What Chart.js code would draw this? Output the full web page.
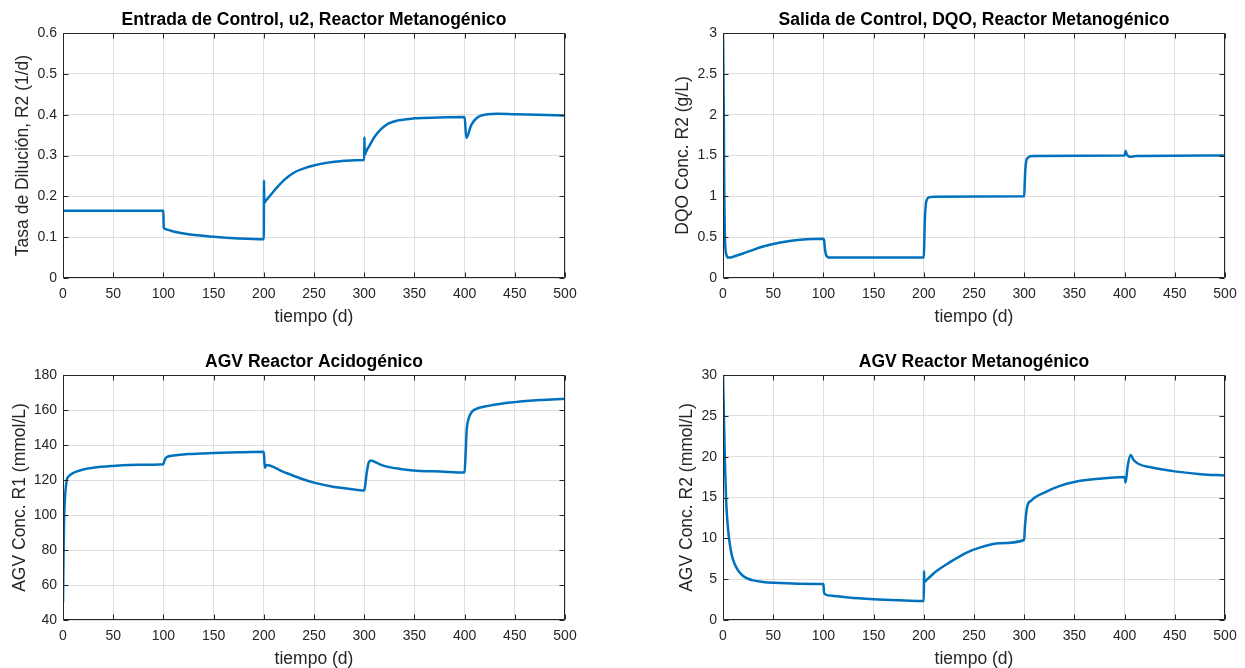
<!DOCTYPE html>
<html>
<head>
<meta charset="utf-8">
<script src="https://cdn.jsdelivr.net/npm/chart.js@4.4.1/dist/chart.umd.min.js"></script>
<style>
  html, body { margin: 0; padding: 0; background: #fff; width: 1245px; height: 668px; overflow: hidden; }
  canvas { position: absolute; }
</style>
</head>
<body>
<canvas id="c1" width="622" height="334" style="left:0;top:0"></canvas>
<canvas id="c2" width="605" height="334" style="left:640px;top:0"></canvas>
<canvas id="c3" width="622" height="334" style="left:0;top:336px"></canvas>
<canvas id="c4" width="605" height="334" style="left:640px;top:336px"></canvas>
<script>
// tick labels
const xTicks = ['0', '50', '100', '150', '200', '250', '300', '350', '400', '450', '500'];
const u2Ticks = ['0', '0.1', '0.2', '0.3', '0.4', '0.5', '0.6'];
const dqoTicks = ['0', '0.5', '1', '1.5', '2', '2.5', '3'];
const r1Ticks = ['40', '60', '80', '100', '120', '140', '160', '180'];
const r2Ticks = ['0', '5', '10', '15', '20', '25', '30'];

// u2, tasa de dilucion R2 (1/d)
const tU2 = [0, 100, 100.3, 101, 103, 110, 125, 150, 175, 200, 200.2, 200.5, 201.5, 203, 205, 210.7, 220.7, 230.7, 240.7,
  250.7, 260, 270.7, 280, 290.7, 300, 300.2, 300.5, 301.5, 303, 305.7, 310.7, 317, 324, 334, 350, 374, 400, 401.7, 406.7,
  413, 423, 433, 450, 473, 500];
const u2 = [0.165, 0.165, 0.125, 0.121, 0.119, 0.114, 0.107, 0.101, 0.097, 0.095, 0.239, 0.183, 0.187, 0.192, 0.198, 0.215,
  0.241, 0.259, 0.269, 0.276, 0.281, 0.2845, 0.287, 0.2886, 0.289, 0.345, 0.302, 0.307, 0.315, 0.326, 0.347, 0.365, 0.378,
  0.386, 0.391, 0.393, 0.394, 0.343, 0.375, 0.3935, 0.401, 0.4025, 0.401, 0.4, 0.398];

// DQO R2 (g/L)
const tDqo = [0, 0.8, 1.3, 1.8, 2.5, 3.5, 5, 7, 10, 20, 30, 40, 50, 60, 70, 80, 90, 100, 100.7, 101.5, 102.5, 104, 106, 200,
  200.5, 201, 202, 203.5, 206, 210, 300, 300.5, 301, 302, 303.5, 306, 310, 400, 401, 402, 404, 407, 412, 500];
const dqo = [3.05, 2.0, 1.0, 0.55, 0.35, 0.28, 0.25, 0.25, 0.26, 0.30, 0.345, 0.385, 0.416, 0.44, 0.458, 0.47, 0.477, 0.482,
  0.46, 0.36, 0.29, 0.26, 0.25, 0.25, 0.45, 0.7, 0.9, 0.97, 0.99, 0.995, 1.0, 1.15, 1.3, 1.43, 1.47, 1.49, 1.495, 1.5, 1.555,
  1.52, 1.49, 1.485, 1.495, 1.5];

// AGV R1 (mmol/L)
const tR1 = [0, 0.5, 1, 2, 3, 4, 6, 10, 20, 30, 50, 75, 100, 101, 103, 110, 125, 150, 175, 200, 201, 202.7, 219, 236, 250,
  269, 286, 300, 301, 302.5, 304, 305, 306.7, 310, 319, 336, 352, 376, 400, 401, 402, 404, 407, 410, 425, 450, 475, 500];
const agvR1 = [50, 75, 95, 110, 117, 120.5, 122.3, 124, 126, 127, 128, 128.7, 129, 131, 133, 134, 134.8, 135.4, 135.8, 136.1,
  127, 128.6, 124.8, 121, 118.5, 116.2, 114.9, 114, 117, 124, 129, 130.5, 131.2, 130.5, 128.2, 126.3, 125.3, 124.8, 124.3,
  135, 148, 155, 158.7, 160.2, 162.5, 164.5, 165.7, 166.4];

// AGV R2 (mmol/L)
const tR2 = [0, 1, 2, 3, 4, 5, 6, 8, 10, 13, 16, 20, 25, 30, 40, 50, 75, 100, 100.5, 101.5, 110, 125, 150, 175, 200, 200.2,
  200.5, 201.5, 205, 211.7, 225, 241.7, 258, 275, 300, 300.5, 301.5, 303, 306.7, 321.7, 335, 350, 375, 400, 401, 403, 406,
  409, 414, 426, 450, 476, 500];
const agvR2 = [30, 24.5, 19, 15, 12.7, 11.2, 10, 8.4, 7.4, 6.5, 5.9, 5.4, 5.05, 4.85, 4.65, 4.55, 4.45, 4.4, 3.5, 3.15, 2.95,
  2.75, 2.55, 2.42, 2.33, 6.0, 4.65, 4.75, 5.15, 5.9, 7.0, 8.2, 8.95, 9.4, 9.8, 11.0, 12.5, 13.9, 14.6, 15.7, 16.4, 16.9,
  17.3, 17.5, 16.85, 18.8, 20.2, 19.6, 19.1, 18.7, 18.2, 17.85, 17.7];

const FONT = '"Liberation Sans", Arial, sans-serif';
const INK = '#262626';

// box, inner ticks and title like matlab axes
const matlabAxes = {
  id: 'matlabAxes',
  afterDraw(chart, args, opts) {
    const ctx = chart.ctx;
    const a = chart.chartArea;
    const x = chart.scales.x, y = chart.scales.y;
    const l = Math.round(a.left) + 0.5, r = Math.round(a.right) - 0.5;
    const t = Math.round(a.top) + 0.5, b = Math.round(a.bottom) - 0.5;
    ctx.save();
    ctx.strokeStyle = INK;
    ctx.lineWidth = 1;
    ctx.beginPath();
    ctx.rect(l, t, r - l, b - t);
    x.ticks.forEach(tk => {
      const px = Math.round(x.getPixelForValue(tk.value)) + 0.5;
      ctx.moveTo(px, b); ctx.lineTo(px, b - 5);
      ctx.moveTo(px, t); ctx.lineTo(px, t + 5);
    });
    y.ticks.forEach(tk => {
      const py = Math.round(y.getPixelForValue(tk.value)) + 0.5;
      ctx.moveTo(l, py); ctx.lineTo(l + 5, py);
      ctx.moveTo(r, py); ctx.lineTo(r - 5, py);
    });
    ctx.stroke();
    ctx.fillStyle = '#000';
    ctx.font = 'bold 17.5px ' + FONT;
    ctx.textAlign = 'center';
    ctx.textBaseline = 'alphabetic';
    ctx.fillText(opts.text, (a.left + a.right) / 2, a.top - 8);
    ctx.restore();
  }
};

function makeChart(id, c) {
  return new Chart(document.getElementById(id), {
    type: 'line',
    data: {
      datasets: [{
        data: c.t.map((t, i) => ({x: t, y: c.v[i]})),
        borderColor: '#0072BD',
        borderWidth: 2.5,
        pointRadius: 0,
        cubicInterpolationMode: 'monotone'
      }]
    },
    options: {
      responsive: false,
      animation: false,
      layout: {padding: {top: c.top, right: c.right, bottom: 0, left: 0}},
      plugins: {
        legend: {display: false},
        tooltip: {enabled: false},
        matlabAxes: {text: c.title}
      },
      scales: {
        x: {
          type: 'linear',
          min: 0,
          max: 500,
          afterBuildTicks: s => { s.ticks = xTicks.map(v => ({value: Number(v)})); },
          afterFit: s => { s.height = c.xh; },
          ticks: {callback: (v, i) => xTicks[i], color: INK, font: {family: FONT, size: 14}, padding: 8, maxRotation: 0},
          grid: {color: '#dfdfdf', drawTicks: false},
          border: {display: false},
          title: {display: true, text: 'tiempo (d)', color: INK, font: {family: FONT, size: 17.5}, padding: {top: 0, bottom: c.xpad}}
        },
        y: {
          min: c.min,
          max: c.max,
          afterBuildTicks: s => { s.ticks = c.ticks.map(v => ({value: Number(v)})); },
          afterFit: s => { s.width = c.yw; },
          ticks: {callback: (v, i) => c.ticks[i], color: INK, font: {family: FONT, size: 14}, padding: 6},
          grid: {color: '#dfdfdf', drawTicks: false},
          border: {display: false},
          title: {display: true, text: c.ylabel, color: INK, font: {family: FONT, size: 17.5}, padding: {top: c.ypad, bottom: 0}}
        }
      }
    },
    plugins: [matlabAxes]
  });
}

makeChart('c1', {t: tU2, v: u2, ticks: u2Ticks, min: 0, max: 0.6, title: 'Entrada de Control, u2, Reactor Metanogénico',
  ylabel: 'Tasa de Dilución, R2 (1/d)', top: 33, right: 57, xh: 56, yw: 63, xpad: 6.5, ypad: 12.5});
makeChart('c2', {t: tDqo, v: dqo, ticks: dqoTicks, min: 0, max: 3, title: 'Salida de Control, DQO, Reactor Metanogénico',
  ylabel: 'DQO Conc. R2 (g/L)', top: 33, right: 20, xh: 56, yw: 83, xpad: 6.5, ypad: 32.5});
makeChart('c3', {t: tR1, v: agvR1, ticks: r1Ticks, min: 40, max: 180, title: 'AGV Reactor Acidogénico',
  ylabel: 'AGV Conc. R1 (mmol/L)', top: 39, right: 57, xh: 50, yw: 63, xpad: 0.5, ypad: 9.5});
makeChart('c4', {t: tR2, v: agvR2, ticks: r2Ticks, min: 0, max: 30, title: 'AGV Reactor Metanogénico',
  ylabel: 'AGV Conc. R2 (mmol/L)', top: 39, right: 20, xh: 50, yw: 83, xpad: 0.5, ypad: 36.5});
</script>
</body>
</html>
